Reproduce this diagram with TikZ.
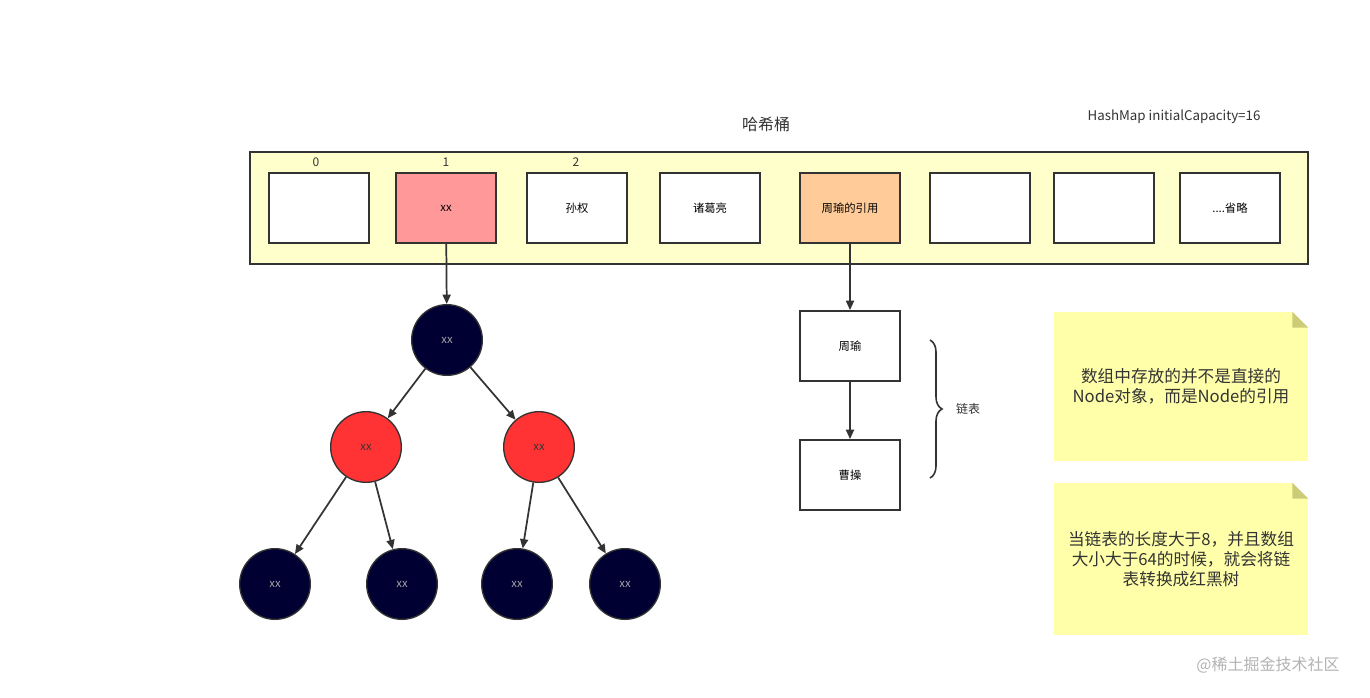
\documentclass[tikz,border=0pt]{standalone}
\usepackage{fontspec}
\setmainfont{Noto Sans CJK SC}
\usetikzlibrary{arrows.meta,calc,positioning,decorations.pathreplacing}

\definecolor{bucketbg}{HTML}{FFFFCC}
\definecolor{notebg}{HTML}{FFFFAA}
\definecolor{notefold}{HTML}{CCCC77}
\definecolor{keyred}{HTML}{FF9999}
\definecolor{keyorange}{HTML}{FFCC99}
\definecolor{treeblack}{HTML}{000033}
\definecolor{treered}{HTML}{FF3333}
\definecolor{linegray}{HTML}{333333}

\tikzset{
  cell/.style={draw=linegray, line width=1.4pt, fill=white, minimum width=75pt, minimum height=52.5pt, inner sep=0pt, font=\fontsize{8.5}{10}\selectfont},
  rbnode/.style={circle, draw=linegray, line width=1pt, minimum size=53pt, inner sep=0pt, font=\fontsize{8.5}{10}\selectfont},
  blk/.style={rbnode, fill=treeblack, text=gray!70},
  red/.style={rbnode, fill=treered, text=linegray},
  note/.style={fill=notebg, minimum width=190.5pt, inner sep=0pt, align=center, font=\fontsize{12.5}{15}\selectfont, text=linegray},
  link/.style={-{Triangle[length=7pt,width=6pt]}, draw=linegray, line width=1.3pt}
}

\begin{document}
\begin{tikzpicture}[x=0.75pt, y=-0.75pt]
  \useasboundingbox (0,0) rectangle (1370,697);

  % hash bucket
  \node[draw=linegray, line width=1.5pt, fill=bucketbg, minimum width=793.5pt, minimum height=84pt, inner sep=0pt] (bucket) at (779,208) {};
  \node[font=\fontsize{12}{14}\selectfont, text=linegray] (title) at (766,124) {哈希桶};
  \node[font=\fontsize{10}{12}\selectfont, text=linegray] (cap) at (1174,117) {HashMap initialCapacity=16};

  \node[cell] (c0) at (319,208) {};
  \node[cell, fill=keyred] (c1) at (446,208) {xx};
  \node[cell] (c2) at (577,208) {孙权};
  \node[cell] (c3) at (710,208) {诸葛亮};
  \node[cell, fill=keyorange] (c4) at (850,208) {周瑜的引用};
  \node[cell] (c5) at (980,208) {};
  \node[cell] (c6) at (1104,208) {};
  \node[cell] (c7) at (1230,208) {....省略};

  \foreach \i/\x in {0/316,1/446,2/576}
    \node[font=\fontsize{9}{10}\selectfont, text=linegray] at (\x,162) {\i};

  % red-black tree
  \node[blk] (root) at (447,340) {xx};
  \node[red] (l) at (366,447) {xx};
  \node[red] (r) at (539,447) {xx};
  \node[blk] (ll) at (275,584) {xx};
  \node[blk] (lr) at (402,584) {xx};
  \node[blk] (rl) at (517,584) {xx};
  \node[blk] (rr) at (625,584) {xx};

  \draw[link] (c1) -- (root);
  \draw[link] (root) -- (l);
  \draw[link] (root) -- (r);
  \draw[link] (l) -- (ll);
  \draw[link] (l) -- (lr);
  \draw[link] (r) -- (rl);
  \draw[link] (r) -- (rr);

  % linked list
  \node[cell] (zy) at (850,346) {周瑜};
  \node[cell] (cc) at (850,475) {曹操};
  \draw[link] (c4) -- (zy);
  \draw[link] (zy) -- (cc);

  \coordinate (bt) at (930,340);
  \coordinate (bb) at (930,478);
  \draw[decorate, decoration={brace, amplitude=9pt}, draw=linegray, line width=1.2pt] (bt) -- (bb);
  \node[font=\fontsize{9}{10}\selectfont, text=linegray] (lbl) at (968,409) {链表};

  % notes
  \node[note, minimum height=111.75pt] (n1) at (1181,386.5) {数组中存放的并不是直接的\\Node对象，而是Node的引用};
  \node[note, minimum height=114pt] (n2) at (1181,559) {当链表的长度大于8，并且数组\\大小大于64的时候，就会将链\\表转换成红黑树};
  \foreach \n in {n1,n2} {
    \fill[white] (\n.north east) -- ++(-16,0) -- ++(16,16) -- cycle;
    \fill[notefold] (\n.north east) ++(-16,0) -- ++(16,16) -- ++(-16,0) -- cycle;
  }

  \node[font=\fontsize{12}{14}\selectfont, text=gray!60] (wm) at (1268,665) {@稀土掘金技术社区};
\end{tikzpicture}
\end{document}
